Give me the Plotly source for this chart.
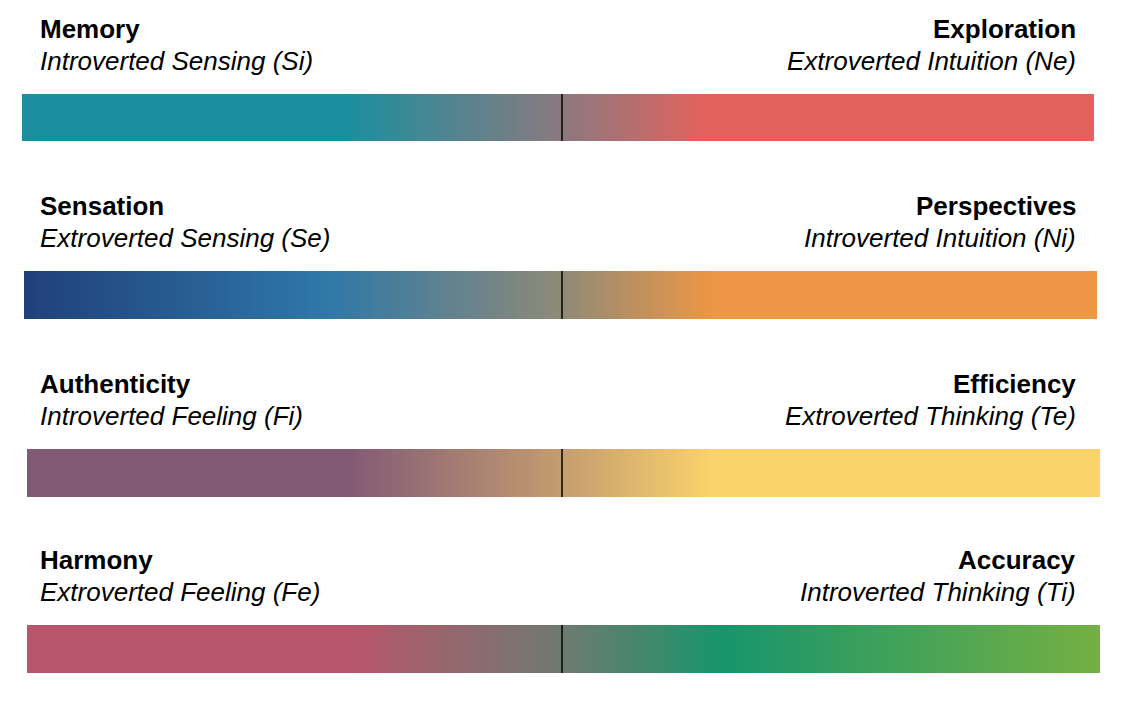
import plotly.graph_objects as go
import numpy as np

titles_left = ["Memory", "Sensation", "Authenticity", "Harmony"]
subs_left = ["Introverted Sensing (Si)", "Extroverted Sensing (Se)", "Introverted Feeling (Fi)", "Extroverted Feeling (Fe)"]
titles_right = ["Exploration", "Perspectives", "Efficiency", "Accuracy"]
subs_right = ["Extroverted Intuition (Ne)", "Introverted Intuition (Ni)", "Extroverted Thinking (Te)", "Introverted Thinking (Ti)"]
scales = [
    [[0, "#1a8fa0"], [0.3, "#1a8fa0"], [0.5, "#897a80"], [0.64, "#e4625c"], [1, "#e4625c"]],
    [[0, "#21407a"], [0.28, "#2e78a8"], [0.5, "#8f8a78"], [0.64, "#ec9646"], [1, "#ec9646"]],
    [[0, "#835a75"], [0.3, "#835a75"], [0.5, "#c59d70"], [0.64, "#fbd36b"], [1, "#fbd36b"]],
    [[0, "#b9566b"], [0.3, "#b9566b"], [0.5, "#6e7a70"], [0.65, "#17956c"], [1, "#74b044"]],
]
bar_x = [(22, 1094), (24, 1097), (27, 1100), (27, 1100)]
bar_y = [(94, 141), (271, 319), (449, 497), (625, 673)]

fig = go.Figure()
N = 300
ann = []
shapes = []
for i in range(4):
    x0, x1 = bar_x[i]
    y0, y1 = bar_y[i]
    dx = (x1 - x0) / N
    z = [list(np.linspace(0, 1, N))]
    fig.add_trace(go.Heatmap(z=z, x0=x0 + dx / 2, dx=dx, y0=(y0 + y1) / 2, dy=y1 - y0,
                             colorscale=scales[i], zmin=0, zmax=1, showscale=False, hoverinfo="skip"))
    shapes.append(dict(type="line", x0=562, x1=562, y0=y0, y1=y1, line=dict(color="black", width=1.5)))
    ty = y0 - 65
    ann += [
        dict(x=38, y=ty, text="<b>%s</b>" % titles_left[i], xanchor="left", font=dict(size=26)),
        dict(x=38, y=ty + 32, text="<i>%s</i>" % subs_left[i], xanchor="left", font=dict(size=26)),
        dict(x=1078, y=ty, text="<b>%s</b>" % titles_right[i], xanchor="right", font=dict(size=26)),
        dict(x=1078, y=ty + 32, text="<i>%s</i>" % subs_right[i], xanchor="right", font=dict(size=26)),
    ]
for a in ann:
    a.update(xref="x", yref="y", showarrow=False, yanchor="middle")
    a["font"].update(family="Liberation Sans, Arial", color="black")

fig.update_layout(width=1122, height=710, margin=dict(l=0, r=0, t=0, b=0),
                  plot_bgcolor="white", paper_bgcolor="white",
                  xaxis=dict(range=[8, 1130], visible=False, fixedrange=True),
                  yaxis=dict(range=[718, 8], visible=False, fixedrange=True),
                  annotations=ann, shapes=shapes)
fig.write_html("out.html")
